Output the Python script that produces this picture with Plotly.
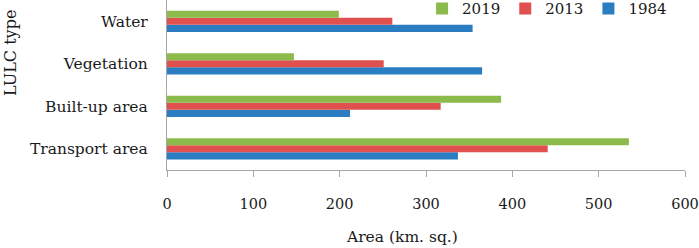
import plotly.graph_objects as go

categories = ["Transport area", "Built-up area", "Vegetation", "Water"]
years = ["1984", "2013", "2019"]
values_1984 = [337, 212, 365, 354]
values_2013 = [441, 317, 251, 261]
values_2019 = [535, 387, 147, 199]
colors = {"1984": "#2a7dc1", "2013": "#e0504f", "2019": "#8dbb4b"}
x_ticks = [0, 100, 200, 300, 400, 500, 600]

series = {"1984": values_1984, "2013": values_2013, "2019": values_2019}
FONT = "DejaVu Serif"

fig = go.Figure()
for yr in years:
    fig.add_trace(go.Bar(
        y=categories, x=series[yr], name=yr, orientation="h",
        marker=dict(color=colors[yr], line=dict(width=0)),
    ))

fig.update_layout(
    width=699, height=248,
    margin=dict(l=167, r=14, t=0, b=78, autoexpand=False),
    paper_bgcolor="white", plot_bgcolor="white",
    barmode="group", bargap=0.5, bargroupgap=0,
    font=dict(family=FONT, size=14.5, color="#1a1a1a"),
    showlegend=True,
    legend=dict(orientation="h", traceorder="reversed",
                x=0.975, y=1.045, xanchor="right", yanchor="top",
                font=dict(family=FONT, size=15, color="#1a1a1a"),
                bgcolor="rgba(0,0,0,0)", itemwidth=30, tracegroupgap=0),
    xaxis=dict(range=[0, 600], tickvals=x_ticks, ticks="outside", ticklen=6,
               tickcolor="#a6a6a6", showline=True, linecolor="#a6a6a6",
               linewidth=1.3, showgrid=False, zeroline=False,
               ticklabelstandoff=14),
    yaxis=dict(categoryorder="array", categoryarray=categories,
               showline=True, linecolor="#a6a6a6", linewidth=1.3,
               showgrid=False, ticks="", ticklabelstandoff=15,
               tickfont=dict(family=FONT, size=15.5, color="#1a1a1a")),
    annotations=[
        dict(text="Area (km. sq.)", xref="paper", yref="paper",
             x=(402 - 167) / 518, y=-67 / 170, showarrow=False,
             xanchor="center", yanchor="middle",
             font=dict(family=FONT, size=15.5, color="#1a1a1a")),
        dict(text="LULC type", xref="paper", yref="paper",
             x=-157 / 518, y=(170 - 53) / 170, showarrow=False, textangle=-90,
             xanchor="center", yanchor="middle",
             font=dict(family=FONT, size=16, color="#1a1a1a")),
    ],
)

fig.write_html("out.html", config={"displayModeBar": False},
               post_script="document.body.style.margin='0';")
